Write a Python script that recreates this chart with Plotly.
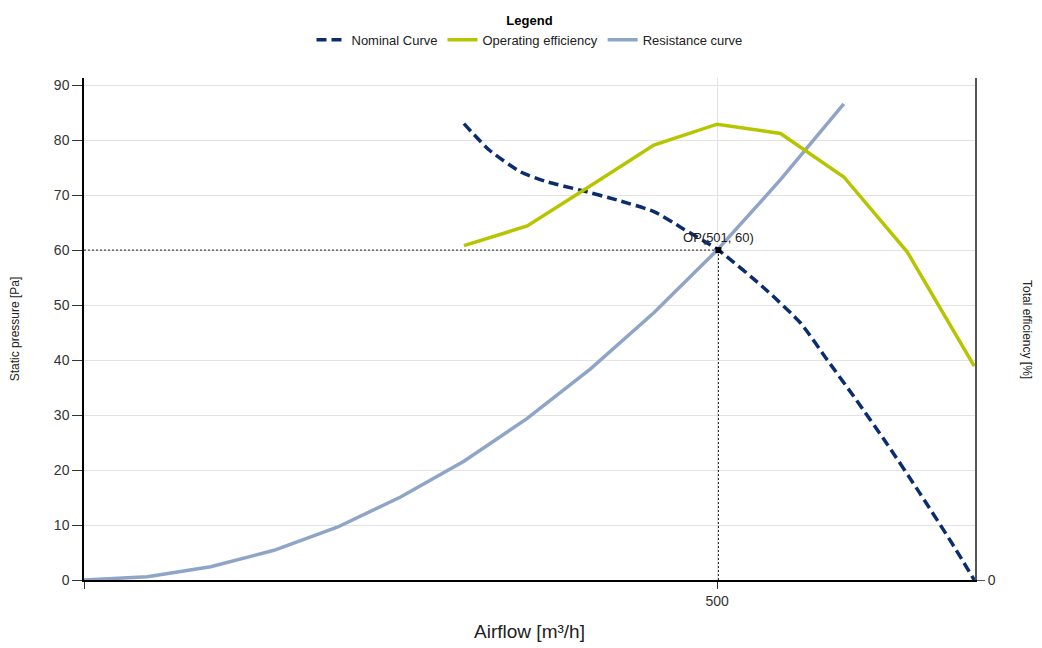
import plotly.graph_objects as go

# Nominal fan curve (airflow m3/h, static pressure Pa)
nominal_x = [300, 320, 345, 366, 392, 421, 450, 473, 501, 539, 566, 587, 610, 634, 660, 687, 703]
nominal_y = [83.0, 78.2, 74.2, 72.4, 70.9, 69.1, 67.0, 63.9, 60.0, 52.7, 46.7, 40.0, 32.7, 24.8, 15.8, 6.1, 0.0]

# Operating efficiency (plotted on right axis)
eff_x = [300, 350, 400, 450, 500, 550, 600, 650, 703]
eff_y = [60.8, 64.4, 71.7, 79.1, 82.9, 81.2, 73.3, 59.7, 38.9]

# System resistance curve
res_x = [0, 50, 100, 150, 200, 250, 300, 350, 400, 450, 500, 550, 600]
res_y = [0.0, 0.6, 2.4, 5.4, 9.6, 15.1, 21.6, 29.4, 38.4, 48.6, 60.0, 72.8, 86.6]

# Operating point
op_x = 501
op_y = 60

x_range = [0, 703.6]
y_range = [0, 91.3]
x_ticks = [0, 500]
x_ticklabels = ["", "500"]
y_ticks = [0, 10, 20, 30, 40, 50, 60, 70, 80, 90]

FONT = "Liberation Sans, Arial, sans-serif"

fig = go.Figure()

# operating point guide lines
fig.add_trace(go.Scatter(x=[0, op_x], y=[op_y, op_y], mode="lines",
                         line=dict(color="#222222", width=1, dash="2px,2px"),
                         showlegend=False, hoverinfo="skip"))
fig.add_trace(go.Scatter(x=[op_x, op_x], y=[0, op_y], mode="lines",
                         line=dict(color="#222222", width=1, dash="2px,2px"),
                         showlegend=False, hoverinfo="skip"))

fig.add_trace(go.Scatter(x=nominal_x, y=nominal_y, mode="lines", name="Nominal Curve",
                         line=dict(color="#0b2d6e", width=3.5, dash="10px,5px", shape="spline", smoothing=0.6)))
fig.add_trace(go.Scatter(x=eff_x, y=eff_y, mode="lines", name="Operating efficiency",
                         line=dict(color="#b7c400", width=3.5), yaxis="y2"))
fig.add_trace(go.Scatter(x=res_x, y=res_y, mode="lines", name="Resistance curve",
                         line=dict(color="#8ea5c8", width=3.5)))

fig.add_trace(go.Scatter(x=[op_x], y=[op_y], mode="markers+text",
                         marker=dict(symbol="square", size=6, color="black"),
                         text=[f"OP({op_x}, {op_y})"], textposition="top center",
                         textfont=dict(family=FONT, size=13, color="#222222"),
                         showlegend=False, hoverinfo="skip"))

fig.update_layout(
    width=1034, height=640,
    margin=dict(l=76, r=67, t=70, b=68, autoexpand=False),
    paper_bgcolor="white", plot_bgcolor="white",
    font=dict(family=FONT, size=13, color="#222222"),
    legend=dict(
        orientation="h", x=0.5, xanchor="center", y=1.0, yanchor="top",
        yref="container",
        title=dict(text="<b>Legend</b>", side="top center", font=dict(size=13, color="black")),
        font=dict(size=13, color="#222222"),
        itemwidth=30, tracegroupgap=0,
    ),
    xaxis=dict(
        range=x_range, tickvals=x_ticks, ticktext=x_ticklabels,
        showgrid=True, gridcolor="#e3e3e3", gridwidth=1,
        showline=True, linecolor="black", linewidth=1.5,
        ticks="outside", ticklen=7, tickcolor="#333333",
        tickfont=dict(size=14, color="#333333"), zeroline=False, automargin=False,
        title=dict(text="Airflow [m³/h]", font=dict(size=19, color="#222222"), standoff=17),
    ),
    yaxis=dict(
        range=y_range, tickvals=y_ticks,
        showgrid=True, gridcolor="#e3e3e3", gridwidth=1,
        showline=True, linecolor="black", linewidth=1.5,
        ticks="outside", ticklen=10, tickcolor="#333333",
        tickfont=dict(size=14, color="#333333"), zeroline=False, automargin=False,
        title=dict(text="Static pressure [Pa]", font=dict(size=12, color="#222222"), standoff=32),
    ),
    yaxis2=dict(
        range=y_range, tickvals=[0], overlaying="y", side="right",
        showgrid=False, showline=True, linecolor="#555555", linewidth=2,
        ticks="outside", ticklen=8, tickcolor="#555555",
        tickfont=dict(size=14, color="#333333"), zeroline=False, automargin=False,
    ),
    annotations=[dict(
        text="Total efficiency [%]", textangle=90,
        xref="paper", yref="paper", x=1, y=0.5, xanchor="center", yanchor="middle",
        xshift=52, showarrow=False, font=dict(size=12, color="#222222"),
    )],
)

fig.write_html("out.html")
